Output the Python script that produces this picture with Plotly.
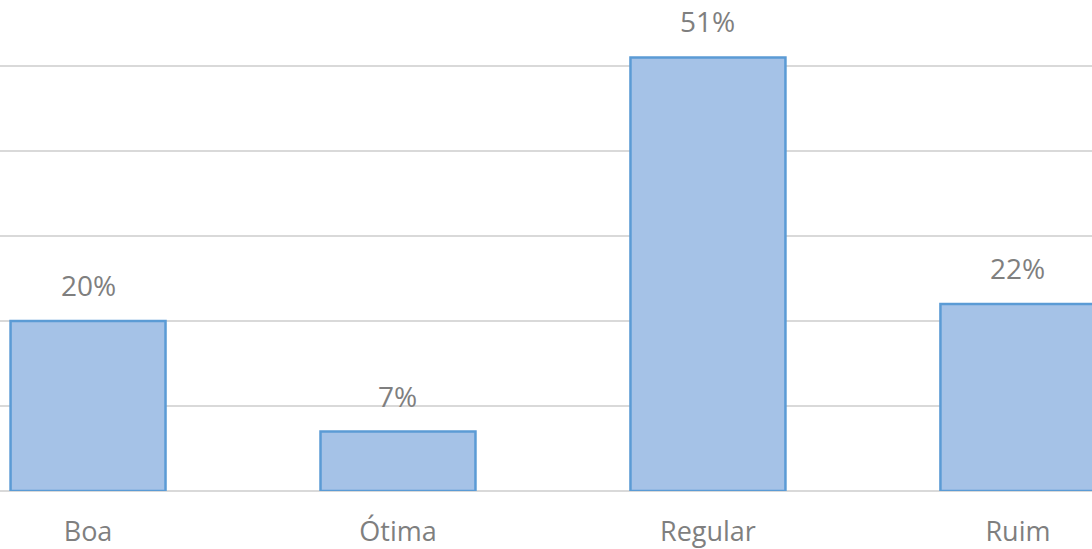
import plotly.graph_objects as go

# Avaliação - share of responses per category
categories = ['Boa', 'Ótima', 'Regular', 'Ruim']
shares = [0.20, 0.07, 0.51, 0.22]
labels = ['20%', '7%', '51%', '22%']

fig = go.Figure()
fig.add_trace(
    go.Bar(x = categories, y = shares, width = 0.5,
           marker = dict(color = '#a5c2e7', line = dict(color = '#5b9bd5', width = 2.5)),
           hoverinfo = 'skip')
)

for cat, val, lab in zip(categories, shares, labels):
    fig.add_annotation(x = cat, y = val, text = lab, showarrow = False,
                       yanchor = 'bottom', yshift = 15,
                       font = dict(family = 'Open Sans', size = 28, color = '#7f7f7f'))

fig.update_xaxes(range = [-0.284, 3.239], showgrid = False, showline = False,
                 ticklabelstandoff = 22,
                 tickfont = dict(family = 'Open Sans', size = 27, color = '#7f7f7f'))
fig.update_yaxes(range = [0, 0.5776], dtick = 0.1, showticklabels = False,
                 gridcolor = '#d9d9d9', gridwidth = 2,
                 zeroline = True, zerolinecolor = '#d9d9d9', zerolinewidth = 2)
fig.update_layout(width = 1092, height = 549, margin = dict(l = 0, r = 0, t = 0, b = 58),
                  plot_bgcolor = 'white', paper_bgcolor = 'white', showlegend = False)

fig.write_html("out.html", config = {'displayModeBar': False},
               post_script = "document.body.style.margin = '0';")
